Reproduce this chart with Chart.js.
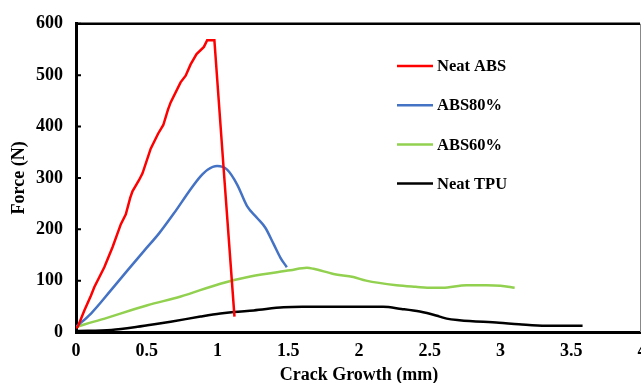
<!DOCTYPE html>
<html>
<head>
<meta charset="utf-8">
<script src="https://cdn.jsdelivr.net/npm/chart.js@4.4.1/dist/chart.umd.min.js"></script>
<style>
  html, body { margin: 0; padding: 0; overflow: hidden; background: #fff; }
  #wrap { width: 700px; height: 383px; }
</style>
</head>
<body>
<div id="wrap"><canvas id="chart" width="700" height="383"></canvas></div>
<script>
// values
const seriesNames = ['Neat ABS', 'ABS80%', 'ABS60%', 'Neat TPU'];
const seriesColors = ['#ff0000', '#4472c4', '#92d050', '#000000'];

const absX = [0, 0.012, 0.059, 0.106, 0.129, 0.2, 0.258, 0.317, 0.352, 0.383, 0.399, 0.446, 0.47, 0.528, 0.58, 0.617, 0.65, 0.669, 0.739, 0.775, 0.81, 0.852, 0.904, 0.927, 0.978, 1.05, 1.12];
const absY = [8, 10, 42, 71, 87, 126, 165, 210, 229, 261, 274, 296, 309, 357, 386, 403, 433, 447, 486, 499, 521, 541, 555, 568, 568, 293, 30];

const abs80X = [0, 0.106, 0.246, 0.364, 0.481, 0.587, 0.692, 0.81, 0.88, 0.93, 0.998, 1.068, 1.139, 1.209, 1.28, 1.338, 1.397, 1.444, 1.49];
const abs80Y = [10, 36, 81, 120, 158, 192, 231, 278, 303, 316, 323, 316, 287, 245, 222, 203, 171, 145, 126];

const abs60X = [0, 0.176, 0.505, 0.74, 1.02, 1.232, 1.514, 1.632, 1.68, 1.82, 1.96, 2.05, 2.265, 2.4, 2.52, 2.59, 2.76, 2.9, 3.0, 3.1];
const abs60Y = [10, 24, 52, 69, 94, 108, 120, 125, 123, 113, 107, 100, 91, 88, 86, 86, 91, 91, 90, 86];

const tpuX = [0, 0.25, 0.434, 0.505, 0.669, 0.88, 1.02, 1.115, 1.256, 1.467, 1.6, 2.17, 2.3, 2.43, 2.48, 2.57, 2.62, 2.71, 2.99, 3.13, 3.32, 3.58];
const tpuY = [2, 4, 10, 13, 20, 30, 36, 39, 42, 48, 49, 49, 45, 40, 37, 30, 26, 23, 18, 15, 12, 12];

const xTitle = 'Crack Growth (mm)';
const yTitle = 'Force (N)';

const allX = [absX, abs80X, abs60X, tpuX];
const allY = [absY, abs80Y, abs60Y, tpuY];

const serif = 'Liberation Serif, Times New Roman, serif';
const axisFont = { family: serif, size: 18, weight: 'bold' };

const datasets = seriesNames.map((name, i) => ({
    label: name,
    data: allX[i].map((x, j) => ({ x: x, y: allY[i][j] })),
    borderColor: seriesColors[i],
    backgroundColor: seriesColors[i],
    borderWidth: 2.5,
    pointRadius: 0,
    fill: false,
    tension: 0,
    cubicInterpolationMode: i === 0 ? 'default' : 'monotone'
}));

const framePlugin = {
    id: 'frame',
    afterDraw(chart) {
        const ctx = chart.ctx;
        const a = chart.chartArea;
        const y = chart.scales.y;
        ctx.save();
        // top border
        ctx.strokeStyle = '#000';
        ctx.lineWidth = 2.5;
        ctx.beginPath();
        ctx.moveTo(a.left, a.top);
        ctx.lineTo(a.right - 2, a.top);
        ctx.stroke();
        // right border, thin grey
        ctx.strokeStyle = '#888';
        ctx.lineWidth = 1;
        ctx.beginPath();
        ctx.moveTo(a.right - 1.5, a.top);
        ctx.lineTo(a.right - 1.5, a.bottom);
        ctx.stroke();
        // inward tick marks on y
        ctx.strokeStyle = '#000';
        ctx.lineWidth = 2;
        ctx.beginPath();
        y.ticks.forEach(t => {
            const py = y.getPixelForValue(t.value);
            ctx.moveTo(a.left, py);
            ctx.lineTo(a.left + 5, py);
        });
        ctx.stroke();
        // legend inside the plot
        ctx.font = 'bold 16.5px ' + serif;
        ctx.textBaseline = 'middle';
        ctx.fillStyle = '#000';
        chart.data.datasets.forEach((ds, i) => {
            const ly = 66 + i * 39.2;
            ctx.strokeStyle = ds.borderColor;
            ctx.lineWidth = 2.5;
            ctx.beginPath();
            ctx.moveTo(397, ly);
            ctx.lineTo(433, ly);
            ctx.stroke();
            ctx.fillText(ds.label, 437, ly + 1);
        });
        ctx.restore();
    }
};

new Chart(document.getElementById('chart').getContext('2d'), {
    type: 'line',
    data: { datasets: datasets },
    options: {
        responsive: false,
        animation: false,
        layout: { padding: { top: 21, right: 58, left: 0, bottom: 0 } },
        plugins: {
            legend: { display: false },
            tooltip: { enabled: false }
        },
        scales: {
            x: {
                type: 'linear',
                min: 0,
                max: 4,
                ticks: { stepSize: 0.5, color: '#000', font: axisFont, padding: 9, maxRotation: 0, callback: v => String(v) },
                grid: { display: false, drawTicks: false },
                border: { color: '#000', width: 3 },
                title: { display: true, text: xTitle, color: '#000', font: axisFont, padding: { top: 0, bottom: -3 } },
                afterFit: s => { s.height = 51; }
            },
            y: {
                min: 0,
                max: 600,
                ticks: { stepSize: 100, color: '#000', font: axisFont, padding: 13 },
                grid: { display: false, drawTicks: false },
                border: { color: '#000', width: 3 },
                title: { display: true, text: yTitle, color: '#000', font: axisFont, padding: { top: 9, bottom: 0 } },
                afterFit: s => { s.width = 76; }
            }
        }
    },
    plugins: [framePlugin]
});
</script>
</body>
</html>
